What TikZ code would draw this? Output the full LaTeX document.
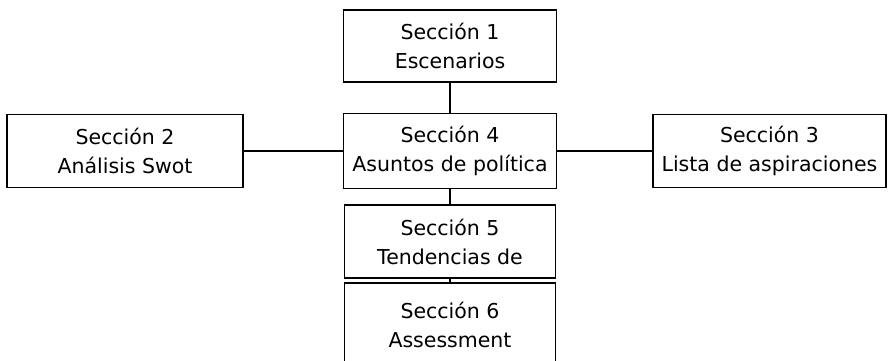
\documentclass[tikz,border=0pt]{standalone}
\usepackage{fontspec}
\setmainfont{DejaVu Sans}
\usepackage{tikz}

\begin{document}
\begin{tikzpicture}[x=1pt,y=-1pt,line width=1.7pt,
    seccion/.style={draw, align=center, inner sep=0pt, font=\fontsize{20.5}{29}\selectfont}]
      \useasboundingbox (0,0) rectangle (888,361);
      \node[seccion, minimum width=213pt, minimum height=72pt] (s1) at (450,46) {Sección 1\\Escenarios};
      \node[seccion, minimum width=213pt, minimum height=75pt] (s4) at (450,151) {Sección 4\\Asuntos de política};
      \node[seccion, minimum width=236pt, minimum height=73pt] (s2) at (125,151) {Sección 2\\Análisis Swot};
      \node[seccion, minimum width=233pt, minimum height=73pt] (s3) at (769.5,151) {Sección 3\\Lista de aspiraciones};
      \node[seccion, minimum width=211pt, minimum height=73pt] (s5) at (450,241.5) {Sección 5\\Tendencias de};
      \node[seccion, minimum width=211pt, minimum height=84pt] (s6) at (450,325) {Sección 6\\Assessment};
      \foreach \a/\b in {s1/s4,s4/s5,s5/s6}
        \draw (\a) -- (\b);
      \draw (s2) -- (s4);
      \draw (s4) -- (s3);
    \end{tikzpicture}
\end{document}
